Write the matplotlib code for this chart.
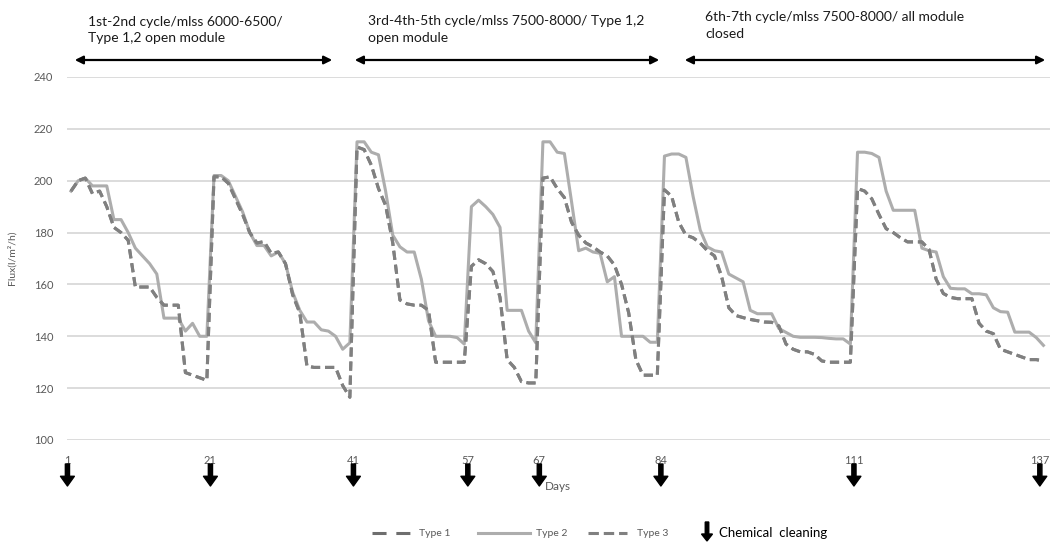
import matplotlib
matplotlib.use('Agg')
import matplotlib.pyplot as plt
from matplotlib.lines import Line2D

plt.rcParams['font.family'] = ['Lato', 'DejaVu Sans']

# daily flux values (l/m2/h)
days = list(range(1, 138))

type2 = [196, 200, 201, 198, 198, 198, 185, 185, 180, 174, 171, 168, 164, 147, 147, 147, 142, 145, 140, 140,
         202, 202, 200, 194, 188, 180, 175, 175, 171, 172.5, 168, 157, 150, 145.5, 145.5, 142.5, 142, 140, 135, 137.5,
         215, 215, 211, 210, 196, 179, 174.5, 172.5, 172.5, 162, 146, 140, 140, 140, 139.5, 137,
         190, 192.5, 190, 187, 182, 150, 150, 150, 142, 137.5,
         215, 215, 211, 210.5, 192, 173, 174, 172.5, 172, 161, 163, 140, 140, 140, 140, 137.7, 137.7,
         209.5, 210.3, 210.3, 209, 194, 181, 174.5, 173, 172.5, 164, 162.5, 161, 150, 148.7, 148.7, 148.7,
         143, 141.5, 140, 139.6, 139.6, 139.6, 139.5, 139.2, 139, 139, 137,
         211, 211, 210.5, 209, 196, 188.6, 188.6, 188.6, 188.6, 174, 173, 172.5, 163, 158.5, 158.3, 158.3,
         156.4, 156.4, 156, 151, 149.5, 149.3, 141.6, 141.6, 141.6, 139.5, 136.5]

type1 = [196, 200, 201, 195, 196, 190, 182, 180, 177, 159, 159, 159, 155, 152, 152, 152, 126, 125, 124, 123,
         201.5, 201.5, 199, 193, 187, 180, 176, 176.5, 172, 172.5, 168, 156, 149, 128.5, 128, 128, 128, 128, 121, 116.5,
         213, 212, 206, 197, 190.5, 176, 154, 152.5, 152, 152, 150, 130, 130, 130, 130, 130,
         167, 169.5, 168, 165, 155, 131, 128, 122.5, 122, 122,
         201, 201.5, 197, 193.5, 184, 179, 176, 174.5, 172.5, 171, 167.5, 160, 149, 131, 125, 125, 125,
         196.5, 194, 184, 179, 178, 176, 173, 171, 163, 151, 148, 147.2, 146.5, 146, 145.5, 145.4,
         144, 137, 135, 134, 134, 133, 130.5, 130, 130, 130, 130,
         197, 196, 193, 187, 181.5, 180, 178, 176.4, 176.4, 176.4, 173.5, 162, 156.5, 155, 154.5, 154.5,
         154.5, 145, 142, 141, 135, 134, 133, 132, 131, 131, 130.5]

# type 3 lies on top of type 1 in the chart
type3 = list(type1)

cleaning_days = [1, 21, 41, 57, 67, 84, 111, 137]
cycle_text = ['1st-2nd cycle/mlss 6000-6500/\nType 1,2 open module',
              '3rd-4th-5th cycle/mlss 7500-8000/ Type 1,2\nopen module',
              '6th-7th cycle/mlss 7500-8000/ all module\nclosed']

W, H = 1057, 544
fig = plt.figure(figsize=(W / 100, H / 100), dpi=100)
ax = fig.add_axes([67 / W, 1 - 440 / H, (1050 - 67) / W, (440 - 77) / H])

ax.plot(days, type2, color='#adadad', lw=2.2)
ax.plot(days, type1, color='#808080', lw=2.2, dashes=(3, 1.6))
ax.plot(days, type3, color='#808080', lw=2.2, dashes=(3, 1.6))

ax.set_xlim(0.44, 137.92)
ax.set_ylim(100, 240)
ax.set_yticks(range(100, 241, 20))
ax.grid(axis='y', color='#d9d9d9', lw=1.3)
ax.set_axisbelow(True)
for s in ax.spines.values():
    s.set_visible(False)
ax.set_xticks([d - 0.5 for d in cleaning_days])
ax.set_xticklabels(cleaning_days)
ax.tick_params(length=0, labelsize=8, labelcolor='#595959')
ax.tick_params(axis='y', pad=10)
ax.tick_params(axis='x', pad=11)

# chemical cleaning arrows under the axis
for d in cleaning_days:
    ax.annotate('', xy=(d - 0.5, 1 - 486 / H), xytext=(d - 0.5, 1 - 464 / H),
                xycoords=('data', 'figure fraction'), textcoords=('data', 'figure fraction'),
                arrowprops=dict(facecolor='black', edgecolor='black', width=3, headwidth=10,
                                headlength=7, shrink=0), annotation_clip=False)

fig.text(558 / W, 1 - 486 / H, 'Days', ha='center', va='center', fontsize=8.5, color='#595959')
fig.text(12 / W, 1 - 258 / H, 'Flux(l/m²/h)', rotation=90, ha='center', va='center',
         fontsize=7.5, color='#595959')

# cycle annotations with double arrows
spans = [(72, 335), (352, 662), (682, 1048)]
text_pos = [(88, 16), (368, 15), (705, 11)]
for (x0, x1), (tx, ty), txt in zip(spans, text_pos, cycle_text):
    fig.add_artist(matplotlib.patches.FancyArrowPatch(
        (x0 / W, 1 - 60 / H), (x1 / W, 1 - 60 / H), transform=fig.transFigure,
        arrowstyle='<|-|>', mutation_scale=12, lw=1.6, color='black'))
    fig.text(tx / W, 1 - ty / H, txt, ha='left', va='top', fontsize=10,
             color='#1a1a1a', linespacing=1.45)

# legend drawn by hand along the bottom
ly = 1 - 533 / H
fig.add_artist(Line2D([372 / W, 410 / W], [ly, ly], transform=fig.transFigure,
                      color='#6e6e6e', lw=2.2, dashes=(4.6, 3.2)))
fig.text(419 / W, ly, 'Type 1', va='center', fontsize=7.5, color='#595959')
fig.add_artist(Line2D([478 / W, 530 / W], [ly, ly], transform=fig.transFigure,
                      color='#adadad', lw=2.2))
fig.text(536 / W, ly, 'Type 2', va='center', fontsize=7.5, color='#595959')
fig.add_artist(Line2D([588 / W, 627 / W], [ly, ly], transform=fig.transFigure,
                      color='#808080', lw=2.2, dashes=(3.4, 1.6)))
fig.text(637 / W, ly, 'Type 3', va='center', fontsize=7.5, color='#595959')
fig.add_artist(matplotlib.patches.FancyArrow(
    707 / W, 1 - 522 / H, 0, -19 / H, transform=fig.transFigure, width=3.5 / W,
    head_width=11 / W, head_length=7 / H, length_includes_head=True, color='black'))
fig.text(719 / W, ly, 'Chemical  cleaning', va='center', fontsize=9.5, color='black')

fig.savefig('out.png', dpi=100)
